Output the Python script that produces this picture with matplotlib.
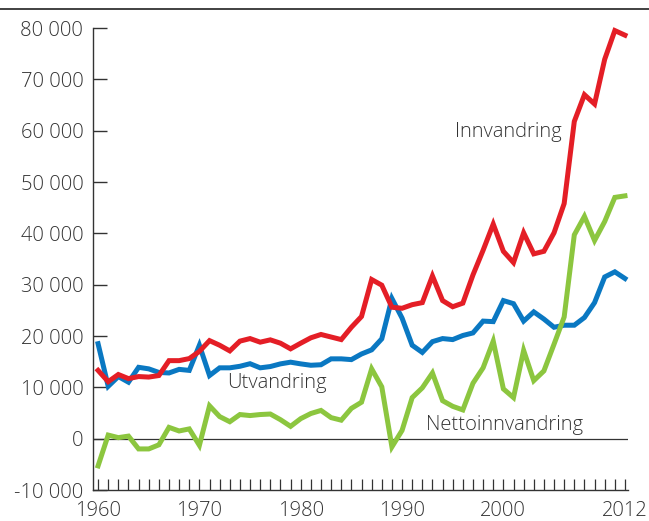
import numpy as np
import matplotlib
matplotlib.use('Agg')
import matplotlib.pyplot as plt

plt.rcParams.update({'font.family': ['Open Sans', 'DejaVu Sans'], 'font.size': 14.5,
                     'font.weight': 'light',
                     'text.color': '#333333', 'xtick.color': '#333333',
                     'ytick.color': '#333333'})

years = np.arange(1960, 2013)

innvandring = [13300, 11100, 12500, 11700, 12100, 12000, 12300, 15200, 15200, 15600,
               17000, 19100, 18200, 17100, 19000, 19500, 18800, 19250, 18600, 17500,
               18600, 19650, 20300, 19800, 19300, 21700, 23800, 31000, 29900, 25600,
               25400, 26100, 26500, 31700, 26900, 25700, 26400, 31900, 36700, 41800,
               36500, 34300, 40100, 36000, 36500, 40100, 45800, 61800, 67000, 65200,
               73900, 79500, 78600]

utvandring = [18500, 10200, 12100, 11000, 13900, 13600, 12900, 12800, 13500, 13300,
              18200, 12300, 13800, 13800, 14100, 14600, 13800, 14050, 14570, 14900,
              14570, 14300, 14400, 15550, 15550, 15400, 16500, 17300, 19450, 27300,
              23500, 18200, 16800, 18900, 19500, 19300, 20100, 20600, 22900, 22800,
              26900, 26300, 22900, 24700, 23300, 21700, 22100, 22100, 23600, 26500,
              31500, 32500, 31200]

netto = [-5300, 700, 200, 500, -2000, -2000, -1200, 2200, 1500, 1900,
         -1300, 6400, 4300, 3300, 4700, 4500, 4700, 4800, 3700, 2400,
         3900, 4900, 5500, 4100, 3600, 5900, 7100, 13600, 10100, -1600,
         1600, 8000, 9900, 12800, 7400, 6300, 5600, 10800, 13800, 19000,
         9700, 8000, 17200, 11300, 13200, 18400, 23700, 39700, 43300, 38600,
         42300, 47000, 47300]

yticks = list(range(-10000, 80001, 10000))
xlabels = [1960, 1970, 1980, 1990, 2000, 2012]

fig = plt.figure(figsize=(6.49, 5.21), dpi=100)
ax = fig.add_axes([93/649, 31/521, 535/649, 462/521])

lw = 3.6
ax.plot(years, utvandring, color='#0a78c2', lw=lw, solid_joinstyle='miter', clip_on=False, zorder=3)
ax.plot(years, netto, color='#8cc63f', lw=lw, solid_joinstyle='miter', clip_on=False, zorder=3)
ax.plot(years, innvandring, color='#e41e26', lw=lw, solid_joinstyle='miter', clip_on=False, zorder=4)

ax.axhline(0, color='#333333', lw=0.9, zorder=2)

ax.set_xlim(1959.5, 2012.3)
ax.set_ylim(-10000, 80000)

ax.set_yticks(yticks)
ax.set_yticklabels([f'{v:,}'.replace(',', ' ') for v in yticks])
ax.set_xticks(years, minor=True)
ax.set_xticks(xlabels)
ax.set_xticklabels([str(y) for y in xlabels])

ax.tick_params(axis='y', direction='in', length=10, width=1, pad=7)
ax.tick_params(axis='x', which='both', direction='in', length=8, width=0.9, pad=8)

for s in ['top', 'right']:
    ax.spines[s].set_visible(False)
for s in ['left', 'bottom']:
    ax.spines[s].set_color('#333333')
    ax.spines[s].set_linewidth(1)

ax.text(1995.2, 59800, 'Innvandring', fontsize=14.5, ha='left', va='center')
ax.text(1972.7, 10800, 'Utvandring', fontsize=14.5, ha='left', va='center')
ax.text(1992.4, 2700, 'Nettoinnvandring', fontsize=14.5, ha='left', va='center')

# top rule
fig.add_artist(plt.Line2D([0, 1], [1 - 9/521, 1 - 9/521], color='#333333', lw=1.3))

fig.savefig('out.png', dpi=100)
